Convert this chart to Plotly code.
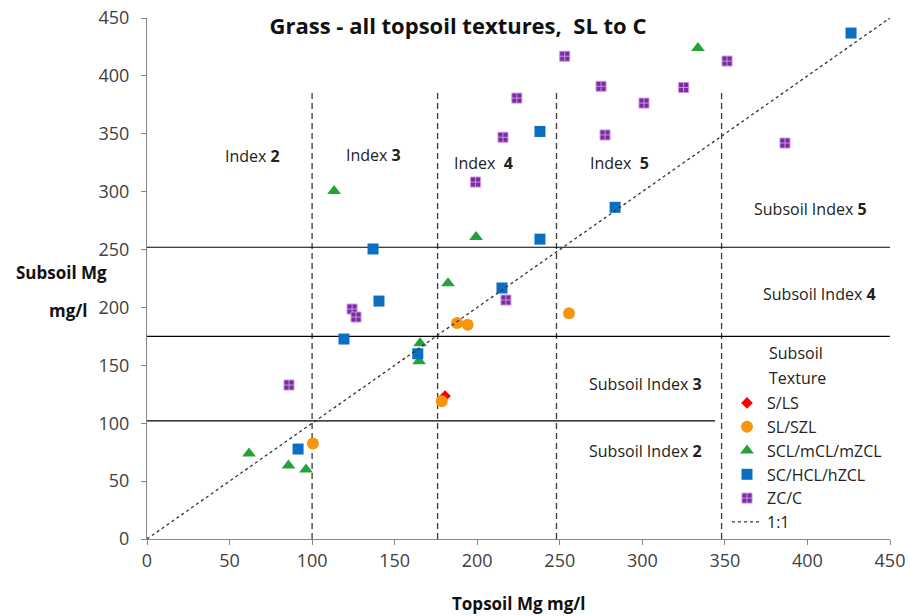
import plotly.graph_objects as go

# ---- data (topsoil Mg, subsoil Mg) ----
sls_x = [180.5]
sls_y = [123.5]

slszl_x = [100.5, 178.5, 187.8, 194.2, 255.6]
slszl_y = [82.5, 119.0, 186.5, 185.0, 195.0]

scl_x = [61.8, 85.7, 96.3, 113.3, 165.4, 164.8, 182.3, 199.3, 333.7]
scl_y = [73.8, 63.5, 60.0, 300.5, 169.0, 153.5, 221.0, 260.8, 424.0]

sc_x = [91.5, 119.3, 136.9, 140.5, 164.0, 215.0, 238.0, 238.0, 283.5, 426.4]
sc_y = [77.7, 172.7, 250.5, 205.5, 160.0, 216.8, 259.0, 352.0, 286.5, 437.0]

zc_x = [86.0, 124.2, 126.6, 199.0, 215.6, 217.4, 224.0, 253.0, 275.0, 277.4, 301.0, 325.0, 351.3, 386.4]
zc_y = [133.0, 198.6, 191.7, 308.3, 347.0, 206.4, 380.8, 417.0, 391.0, 349.0, 376.5, 390.0, 412.8, 342.0]

one_to_one = [0, 450]

# index boundaries
topsoil_bounds = [100, 176, 248, 348]
bound_top = 388
subsoil_bounds = [102, 175, 252]
subsoil_bound_ends = [344, 450, 450]

index_labels = ["Index <b>2</b>", "Index <b>3</b>", "Index&nbsp;&nbsp;<b>4</b>", "Index&nbsp;&nbsp;<b>5</b>"]
index_label_x = [64, 137, 204, 286]
index_label_y = [331, 332, 325, 325]

sub_labels = ["Subsoil Index <b>5</b>", "Subsoil Index <b>4</b>", "Subsoil Index <b>3</b>", "Subsoil Index <b>2</b>"]
sub_label_x = [402, 407, 302, 302]
sub_label_y = [285, 212, 134, 76]

xticks = [0, 50, 100, 150, 200, 250, 300, 350, 400, 450]
yticks = [0, 50, 100, 150, 200, 250, 300, 350, 400, 450]

FONT = "Open Sans"
TXT = "#404040"

fig = go.Figure()

def add(name, x, y, symbol, color, size, line_color=None, line_w=0):
    fig.add_trace(go.Scatter(
        x=x, y=y, mode="markers", name=name, legendgroup=name,
        marker=dict(symbol=symbol, color=color, size=size,
                    line=dict(color=line_color or color, width=line_w)),
    ))

add("S/LS", sls_x, sls_y, "diamond", "#FF0000", 9)
add("SL/SZL", slszl_x, slszl_y, "circle", "#F7960E", 12)
add("SCL/mCL/mZCL", scl_x, scl_y, "triangle-up", "#22A33A", 12)
add("SC/HCL/hZCL", sc_x, sc_y, "square", "#0A6FC2", 11)
add("ZC/C", zc_x, zc_y, "square-cross", "#7030A0", 10, line_color="#D98CE0", line_w=1)

fig.add_trace(go.Scatter(
    x=one_to_one, y=one_to_one, mode="lines", name="1:1", legendgroup="1:1",
    line=dict(color="#333333", width=1.3, dash="3px,3px"),
))
fig.add_trace(go.Scatter(
    x=one_to_one, y=one_to_one, mode="markers", showlegend=False, hoverinfo="skip",
    marker=dict(color="#C0504D", size=4),
))

shapes = []
for bx in topsoil_bounds:
    shapes.append(dict(type="line", xref="x", yref="y", x0=bx, x1=bx, y0=0, y1=bound_top,
                       line=dict(color="#3A3A3A", width=1.3, dash="6px,4px"), layer="below"))
for by, be in zip(subsoil_bounds, subsoil_bound_ends):
    shapes.append(dict(type="line", xref="x", yref="y", x0=-2, x1=be, y0=by, y1=by,
                       line=dict(color="#000000", width=1.2), layer="below"))

annotations = []
for t, x, y in zip(index_labels, index_label_x, index_label_y):
    annotations.append(dict(text=t, x=x, y=y, xref="x", yref="y", showarrow=False,
                            font=dict(family=FONT, size=16, color="#222222")))
for t, x, y in zip(sub_labels, sub_label_x, sub_label_y):
    annotations.append(dict(text=t, x=x, y=y, xref="x", yref="y", showarrow=False,
                            font=dict(family=FONT, size=16, color="#222222")))

# legend header
for txt, py in (("Subsoil", 353), ("Texture", 378)):
    annotations.append(dict(text=txt, x=(767 - 147) / 743, y=(539 - py) / 521, xref="paper", yref="paper",
                            xanchor="left", yanchor="middle", showarrow=False,
                            font=dict(family=FONT, size=16, color="#222222")))
# axis titles
annotations.append(dict(text="<b>Subsoil Mg</b>", x=(61 - 147) / 743, y=(539 - 272) / 521, xref="paper", yref="paper",
                        xanchor="center", yanchor="middle", showarrow=False,
                        font=dict(family=FONT, size=17, color="#111111")))
annotations.append(dict(text="<b>mg/l</b>", x=(68 - 147) / 743, y=(539 - 310) / 521, xref="paper", yref="paper",
                        xanchor="center", yanchor="middle", showarrow=False,
                        font=dict(family=FONT, size=17, color="#111111")))
annotations.append(dict(text="<b>Topsoil Mg mg/l</b>", x=0.5, y=(539 - 603) / 521, xref="paper", yref="paper",
                        xanchor="center", yanchor="middle", showarrow=False,
                        font=dict(family=FONT, size=17, color="#111111")))

axis_common = dict(range=[0, 450], showgrid=False, zeroline=False, showline=True,
                   linecolor="#868686", linewidth=1, ticks="outside", ticklen=5,
                   tickcolor="#868686", tickfont=dict(family=FONT, size=18, color=TXT))

fig.update_layout(
    width=910, height=616,
    margin=dict(l=147, r=20, t=18, b=77, autoexpand=False),
    paper_bgcolor="white", plot_bgcolor="white",
    title=dict(text="<b>Grass - all topsoil textures,  SL to C</b>", x=458 / 910, y=1 - 26 / 616,
               xanchor="center", yanchor="middle",
               font=dict(family=FONT, size=22, color="#111111")),
    xaxis=dict(tickvals=xticks, **axis_common),
    yaxis=dict(tickvals=yticks, ticklabelstandoff=8, **axis_common),
    shapes=shapes, annotations=annotations,
    showlegend=True,
    legend=dict(x=(727 - 147) / 743, y=(539 - 386) / 521, xanchor="left", yanchor="top",
                bgcolor="rgba(0,0,0,0)", itemwidth=30, tracegroupgap=0,
                font=dict(family=FONT, size=16, color="#222222")),
)

fig.write_html("out.html")
